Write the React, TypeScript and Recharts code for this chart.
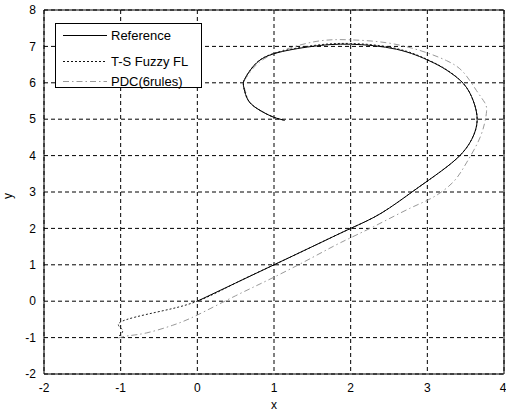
import React from 'react';
import { LineChart, Line, XAxis, YAxis, CartesianGrid, ReferenceArea, Legend, Label } from 'recharts';

const xTicks = [-2, -1, 0, 1, 2, 3, 4];
const yTicks = [-2, -1, 0, 1, 2, 3, 4, 5, 6, 7, 8];

const refX = [0, 0.5, 1, 1.5, 2, 2.4, 2.8, 3.1, 3.4, 3.58, 3.65, 3.6, 3.47, 3.25, 3.03, 2.6, 2.0, 1.5, 1.0, 0.75, 0.63, 0.6, 0.62, 0.68, 0.82, 0.99, 1.14];
const refY = [0, 0.5, 1, 1.5, 2, 2.42, 3.0, 3.45, 3.95, 4.45, 4.97, 5.5, 5.98, 6.35, 6.6, 6.92, 7.06, 7.0, 6.8, 6.5, 6.15, 5.97, 5.75, 5.47, 5.24, 5.06, 4.97];

const tsX = [-1.02, -0.98, -1.0, -0.53, 0, 0.5, 1, 1.5, 2, 2.4, 2.8, 3.1, 3.4, 3.58, 3.65, 3.6, 3.47, 3.25, 3.03, 2.6, 2.0, 1.5, 1.0, 0.75, 0.63, 0.6, 0.62, 0.68, 0.82, 0.99, 1.14];
const tsY = [-0.95, -0.78, -0.57, -0.3, 0, 0.5, 1, 1.5, 2, 2.42, 3.0, 3.45, 3.95, 4.45, 4.97, 5.5, 5.98, 6.36, 6.61, 6.94, 7.08, 7.02, 6.81, 6.5, 6.15, 5.97, 5.75, 5.47, 5.24, 5.06, 4.97];

const pdcX = [-1.03, -0.9, -0.66, -0.32, 0, 0.5, 1, 1.5, 1.86, 2.3, 2.77, 3.08, 3.34, 3.51, 3.69, 3.77, 3.75, 3.64, 3.47, 3.25, 2.9, 2.47, 2.0, 1.56, 1.1, 0.8, 0.64, 0.6, 0.63, 0.68, 0.82, 0.99, 1.14];
const pdcY = [-1.01, -0.95, -0.87, -0.66, -0.38, 0.15, 0.66, 1.2, 1.6, 2.05, 2.55, 2.86, 3.28, 3.8, 4.51, 5.16, 5.45, 5.79, 6.29, 6.61, 6.89, 7.1, 7.18, 7.14, 6.88, 6.55, 6.15, 5.95, 5.75, 5.47, 5.24, 5.06, 4.97];

const seriesNames = ['Reference', 'T-S Fuzzy FL', 'PDC(6rules)'];

const toPts = (xs: number[], ys: number[]) => xs.map((x, i) => ({ x, y: ys[i] }));
const refData = toPts(refX, refY);
const tsData = toPts(tsX, tsY);
const pdcData = toPts(pdcX, pdcY);

const FONT = '"Liberation Sans", Arial, sans-serif';

const renderLegend = () => (
  <svg width={148} height={66} style={{ display: 'block' }}>
    <rect x={0.5} y={0.5} width={146} height={64} fill="#fff" stroke="#000" strokeWidth={1} />
    <line x1={8} x2={52} y1={12.5} y2={12.5} stroke="#000" strokeWidth={1} />
    <line x1={8} x2={52} y1={38.5} y2={38.5} stroke="#111" strokeWidth={1} strokeDasharray="2 2" />
    <line x1={8} x2={52} y1={58.5} y2={58.5} stroke="#999" strokeWidth={1} strokeDasharray="6 3 1.5 3" />
    <text x={56} y={17} fontSize={13} fontFamily={FONT} fill="#000">{seriesNames[0]}</text>
    <text x={56} y={43} fontSize={13} fontFamily={FONT} fill="#000">{seriesNames[1]}</text>
    <text x={56} y={63} fontSize={13} fontFamily={FONT} fill="#000">{seriesNames[2]}</text>
  </svg>
);

export default function App() {
  return (
    <div style={{ position: 'absolute', left: 0, top: 0, background: '#fff' }}>
      <LineChart width={506} height={415} margin={{ top: 10, right: 2, bottom: 0, left: 0 }}>
        <CartesianGrid stroke="#000" strokeDasharray="4 3" strokeWidth={1} />
        <XAxis
          dataKey="x"
          type="number"
          domain={[-2, 4]}
          ticks={xTicks}
          allowDataOverflow
          height={41}
          tickLine={false}
          axisLine={false}
          tickSize={0}
          tickMargin={9}
          tick={{ fontSize: 12, fill: '#000', fontFamily: FONT }}
        >
          <Label value="x" position="insideBottom" offset={6} style={{ fontSize: 12, fill: '#000', fontFamily: FONT }} />
        </XAxis>
        <YAxis
          dataKey="y"
          type="number"
          domain={[-2, 8]}
          ticks={yTicks}
          allowDataOverflow
          width={44}
          tickLine={false}
          axisLine={false}
          tickSize={0}
          tickMargin={8}
          tick={{ fontSize: 12, fill: '#000', fontFamily: FONT }}
        >
          <Label
            content={() => (
              <text x={12} y={196} transform="rotate(-90 12 196)" textAnchor="middle" fontSize={12} fontFamily={FONT} fill="#000">y</text>
            )}
          />
        </YAxis>
        <ReferenceArea x1={-2} x2={4} y1={-2} y2={8} fill="none" stroke="#000" strokeWidth={1} ifOverflow="visible" />
        <Line data={pdcData} type="natural" dataKey="y" name={seriesNames[2]} stroke="#999" strokeWidth={1} strokeDasharray="6 3 1.5 3" dot={false} isAnimationActive={false} />
        <Line data={tsData} type="natural" dataKey="y" name={seriesNames[1]} stroke="#222" strokeWidth={1} strokeDasharray="2 2" dot={false} isAnimationActive={false} />
        <Line data={refData} type="natural" dataKey="y" name={seriesNames[0]} stroke="#000" strokeWidth={1} dot={false} isAnimationActive={false} />
        <Legend
          layout="horizontal"
          verticalAlign="middle"
          align="center"
          content={renderLegend}
          wrapperStyle={{ position: 'absolute', left: 55, top: 23, width: 148, height: 66 }}
        />
      </LineChart>
    </div>
  );
}
